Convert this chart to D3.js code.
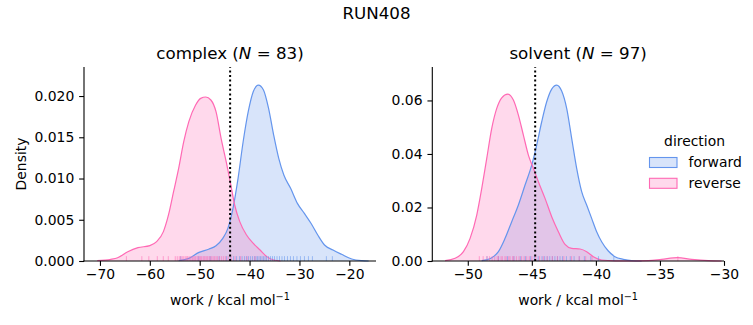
<!DOCTYPE html>
<html><head><meta charset="utf-8">
<script src="https://cdn.jsdelivr.net/npm/d3@7"></script>
<style>
html,body{margin:0;padding:0;background:#fff;}
svg{display:block;}
text{font-family:"DejaVu Sans",sans-serif;fill:#000;}
</style></head>
<body>
<svg id="chart" width="753" height="325"></svg>
<script>
// ---------------- data ----------------
const suptitle = "RUN408";
const directions = ["forward", "reverse"];
const colors = {forward: "#6495ED", reverse: "#FF69B4"};

// complex phase
const complexN = 83;
const complexXTicks = [-70, -60, -50, -40, -30, -20];
const complexYTicks = [0, 0.005, 0.010, 0.015, 0.020];
const complexMarker = -43.9;
const complexForwardKDE = [
  [-54.22,0.00004],[-52.18,0.00032],[-50.14,0.00105],[-48.10,0.00145],[-46.73,0.00186],
  [-45.37,0.00275],[-44.35,0.00396],[-43.33,0.00638],[-42.31,0.01002],[-41.29,0.01446],
  [-40.27,0.01810],[-39.25,0.02055],[-38.23,0.02133],[-37.21,0.02073],[-36.19,0.01850],
  [-35.17,0.01527],[-34.15,0.01244],[-33.13,0.01042],[-31.77,0.00881],[-30.41,0.00699],
  [-29.05,0.00580],[-27.69,0.00457],[-26.33,0.00315],[-24.97,0.00194],[-23.27,0.00133],
  [-21.56,0.00081],[-19.52,0.00024],[-17.48,0.00004],[-16.12,0.0]
];
const complexReverseKDE = [
  [-70.54,0.00004],[-67.82,0.0002],[-66.46,0.0004],[-64.42,0.00113],[-62.38,0.00162],
  [-60.0,0.00186],[-58.64,0.00234],[-57.28,0.00356],[-56.26,0.00558],[-55.24,0.00840],
  [-54.22,0.01123],[-53.20,0.01446],[-52.18,0.01689],[-50.82,0.01891],[-49.80,0.01972],
  [-48.78,0.01988],[-47.76,0.01952],[-46.73,0.01810],[-45.71,0.01487],[-44.69,0.01204],
  [-43.88,0.00962],[-42.99,0.00679],[-41.97,0.00477],[-40.61,0.00315],[-39.25,0.00214],
  [-37.89,0.00133],[-36.53,0.00053],[-35.17,0.00012],[-33.81,0.0]
];
const complexForwardRug = [-53.8,-50.2,-47.9,-46.1,-44.6,-43.9,-43.2,-42.6,-42.0,-41.5,-41.0,-40.6,
  -40.2,-39.8,-39.4,-39.0,-38.7,-38.4,-38.1,-37.8,-37.5,-37.2,-36.9,-36.6,-36.2,-35.8,-35.4,-35.0,
  -34.5,-34.0,-33.5,-33.0,-32.4,-31.8,-31.2,-30.5,-29.8,-29.0,-28.2,-27.4,-24.6,-23.4];
const complexReverseRug = [-64.7,-61.6,-60.2,-58.5,-57.3,-56.3,-54.9,-54.5,-54.1,-53.8,-53.5,-53.2,
  -52.9,-52.6,-52.4,-52.1,-51.8,-51.5,-51.3,-51.0,-50.8,-50.5,-50.3,-50.0,-49.8,-49.6,-49.3,-49.1,
  -48.9,-48.6,-48.4,-48.1,-47.9,-47.6,-47.3,-47.0,-46.7,-46.4,-46.0,-45.6,-45.2,-44.8,-44.3,-43.7,
  -42.9,-41.8,-40.5,-38.9];

// solvent phase
const solventN = 97;
const solventXTicks = [-50, -45, -40, -35, -30];
const solventYTicks = [0, 0.02, 0.04, 0.06];
const solventMarker = -44.74;
const solventForwardKDE = [
  [-48.91,0.00012],[-48.13,0.00124],[-47.61,0.00349],[-47.09,0.00847],[-46.57,0.01469],
  [-46.05,0.02092],[-45.53,0.02838],[-45.01,0.03585],[-44.62,0.04332],[-44.23,0.05204],
  [-43.84,0.05950],[-43.45,0.06424],[-43.06,0.06573],[-42.67,0.06349],[-42.28,0.05702],
  [-41.89,0.04582],[-41.50,0.03461],[-41.11,0.02590],[-40.72,0.02092],[-40.33,0.01594],
  [-39.94,0.01096],[-39.55,0.00722],[-39.03,0.00373],[-38.51,0.00162],[-37.86,0.00062],
  [-37.21,0.00012],[-36.43,0.0]
];
const solventReverseKDE = [
  [-51.77,0.00012],[-50.99,0.00100],[-50.34,0.00349],[-49.82,0.00847],[-49.30,0.01718],
  [-48.91,0.02714],[-48.52,0.03834],[-48.13,0.04955],[-47.74,0.05702],[-47.35,0.06100],
  [-46.88,0.06237],[-46.44,0.06013],[-46.05,0.05453],[-45.66,0.04706],[-45.27,0.03959],
  [-44.88,0.03461],[-44.49,0.02963],[-43.97,0.02340],[-43.45,0.01656],[-42.93,0.01096],
  [-42.41,0.00622],[-41.89,0.00473],[-41.24,0.00448],[-40.72,0.00349],[-40.20,0.00162],
  [-39.55,0.00037],[-38.51,0.00006],[-37.21,0.0],[-35.91,0.00012],[-34.87,0.00062],
  [-33.62,0.00125],[-32.53,0.00062],[-31.23,0.00012],[-30.19,0.0]
];
const solventForwardRug = [-48.5,-47.6,-46.9,-46.4,-45.9,-45.5,-45.1,-44.8,-44.5,-44.2,-44.0,-43.8,
  -43.6,-43.4,-43.2,-43.0,-42.8,-42.6,-42.3,-42.0,-41.7,-41.3,-40.9,-40.4,-39.8,-38.6];
const solventReverseRug = [-49.1,-48.8,-48.5,-48.3,-48.1,-47.9,-47.7,-47.6,-47.4,-47.3,-47.1,-47.0,
  -46.8,-46.7,-46.5,-46.4,-46.2,-46.0,-45.8,-45.6,-45.4,-45.2,-45.0,-44.7,-44.4,-44.1,-43.8,-43.4,
  -43.0,-42.5,-41.9,-41.3,-40.8,-40.3,-33.6];

// ---------------- drawing ----------------
const svg = d3.select("#chart");
const FS = 13.9, TFS = 16.7;

svg.append("text").attr("x", 376.5).attr("y", 19).attr("text-anchor", "middle")
  .style("font-size", TFS + "px").text(suptitle);

const panels = [
  {name: "complex", N: complexN, x0: 84, x1: 376, xDomain: [-73.2, -14.65], yMax: 0.02352,
   xTicks: complexXTicks, yTicks: complexYTicks, yFmt: d3.format(".3f"), marker: complexMarker,
   kde: {forward: complexForwardKDE, reverse: complexReverseKDE},
   rug: {forward: complexForwardRug, reverse: complexReverseRug}, ylabel: true},
  {name: "solvent", N: solventN, x0: 432.3, x1: 724, xDomain: [-52.77, -30], yMax: 0.0725,
   xTicks: solventXTicks, yTicks: solventYTicks, yFmt: d3.format(".2f"), marker: solventMarker,
   kde: {forward: solventForwardKDE, reverse: solventReverseKDE},
   rug: {forward: solventForwardRug, reverse: solventReverseRug}, ylabel: false}
];
const yTop = 67, yBot = 261;

panels.forEach(p => {
  const x = d3.scaleLinear().domain(p.xDomain).range([p.x0, p.x1]);
  const y = d3.scaleLinear().domain([0, p.yMax]).range([yBot, yTop]);
  const g = svg.append("g");

  const area = d3.area().x(d => x(d[0])).y0(y(0)).y1(d => y(d[1])).curve(d3.curveMonotoneX);
  const line = d3.line().x(d => x(d[0])).y(d => y(d[1])).curve(d3.curveMonotoneX);

  directions.forEach(dir => {
    g.append("path").datum(p.kde[dir]).attr("d", area)
      .attr("fill", colors[dir]).attr("fill-opacity", 0.25).attr("stroke", "none");
  });
  directions.forEach(dir => {
    g.append("path").datum(p.kde[dir]).attr("d", line)
      .attr("fill", "none").attr("stroke", colors[dir]).attr("stroke-width", 1.2);
  });
  // rug
  const rugH = (yBot - yTop) * 0.025;
  directions.forEach(dir => {
    g.selectAll(null).data(p.rug[dir]).enter().append("line")
      .attr("x1", d => x(d)).attr("x2", d => x(d))
      .attr("y1", yBot).attr("y2", yBot - rugH)
      .attr("stroke", colors[dir]).attr("stroke-opacity", 0.55).attr("stroke-width", 1);
  });
  // marker
  g.append("line").attr("x1", x(p.marker)).attr("x2", x(p.marker))
    .attr("y1", yBot).attr("y2", yTop)
    .attr("stroke", "#000").attr("stroke-width", 2).attr("stroke-dasharray", "2,2.6");

  // axes
  const xAxis = d3.axisBottom(x).tickValues(p.xTicks).tickSize(4.86).tickPadding(3.5)
    .tickFormat(d3.format("d"));
  const gx = g.append("g").attr("transform", `translate(0,${yBot})`).call(xAxis);
  const yAxis = d3.axisLeft(y).tickValues(p.yTicks).tickSize(4.86).tickPadding(4.9)
    .tickFormat(p.yFmt);
  const gy = g.append("g").attr("transform", `translate(${p.x0},0)`).call(yAxis);
  [gx, gy].forEach(a => {
    a.select(".domain").remove();
    a.selectAll(".tick line").attr("stroke", "#000").attr("stroke-width", 1.1);
    a.selectAll(".tick text").style("font-size", FS + "px").style("font-family", "DejaVu Sans").attr("fill", "#000");
  });
  gx.selectAll(".tick text").attr("dy", "0.71em");
  // spines
  g.append("line").attr("x1", p.x0).attr("x2", p.x0).attr("y1", yTop).attr("y2", yBot + 0.55)
    .attr("stroke", "#000").attr("stroke-width", 1.1);
  g.append("line").attr("x1", p.x0 - 0.55).attr("x2", p.x1).attr("y1", yBot).attr("y2", yBot)
    .attr("stroke", "#000").attr("stroke-width", 1.1);

  // title
  const t = g.append("text").attr("x", (p.x0 + p.x1) / 2).attr("y", 59).attr("text-anchor", "middle")
    .style("font-size", TFS + "px");
  t.append("tspan").text(p.name + " (");
  t.append("tspan").style("font-style", "italic").text("N");
  t.append("tspan").text(" = " + p.N + ")");

  // x label
  const xl = g.append("text").attr("x", (p.x0 + p.x1) / 2).attr("y", 305).attr("text-anchor", "middle")
    .style("font-size", FS + "px");
  xl.append("tspan").text("work / kcal mol");
  xl.append("tspan").attr("dy", -5.5).style("font-size", "9.7px").text("\u22121");

  if (p.ylabel) {
    g.append("text").attr("transform", `translate(26,${(yTop + yBot) / 2}) rotate(-90)`)
      .attr("text-anchor", "middle").style("font-size", FS + "px").text("Density");
  }
});

// legend
const lg = svg.append("g");
lg.append("text").attr("x", 694.5).attr("y", 146).attr("text-anchor", "middle")
  .style("font-size", FS + "px").text("direction");
directions.forEach((dir, i) => {
  const yy = 157.5 + i * 20.8;
  lg.append("rect").attr("x", 649.5).attr("y", yy).attr("width", 27.5).attr("height", 10)
    .attr("fill", colors[dir]).attr("fill-opacity", 0.25)
    .attr("stroke", colors[dir]).attr("stroke-width", 1.1);
  lg.append("text").attr("x", 688.5).attr("y", yy + 9.3).style("font-size", FS + "px").text(dir);
});
</script>
</body></html>
